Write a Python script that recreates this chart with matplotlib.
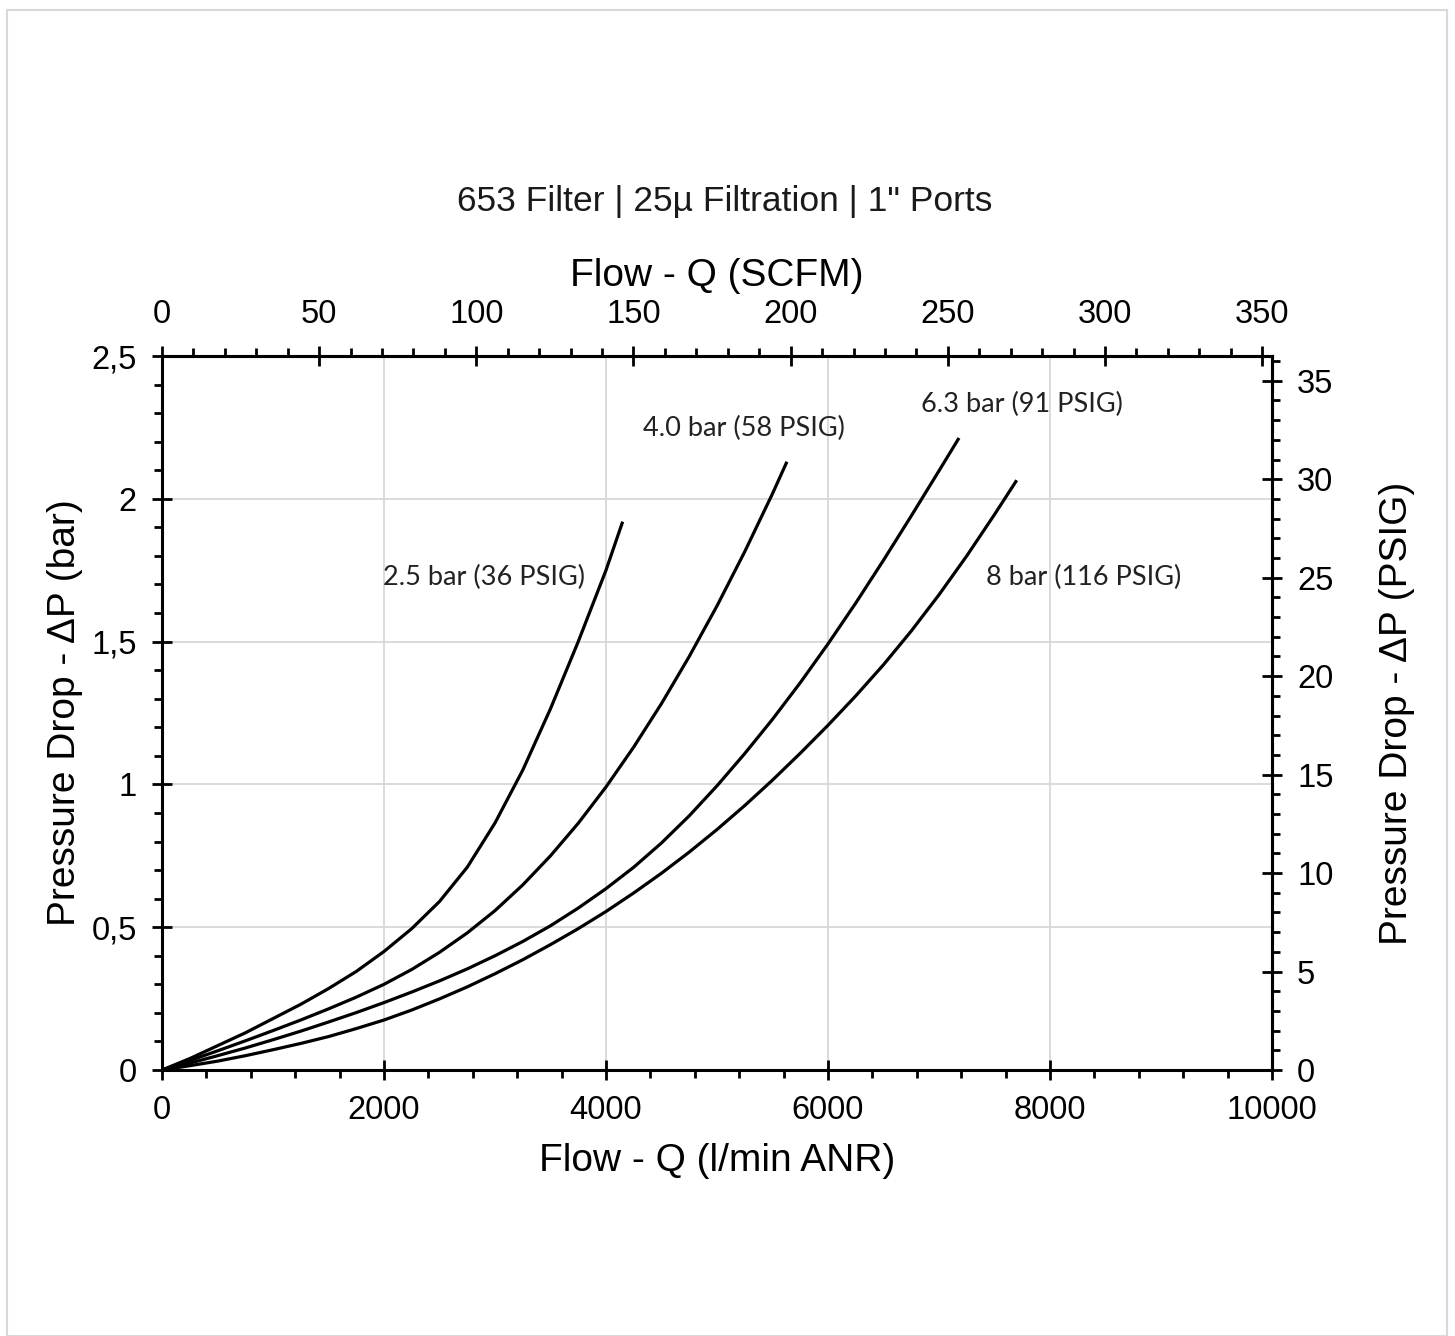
import matplotlib
matplotlib.use("Agg")
import matplotlib.pyplot as plt
from matplotlib.ticker import MultipleLocator, FixedLocator, FixedFormatter
from matplotlib.patches import Rectangle

# ---------------- data (x: l/min ANR, y: bar) ----------------
flow_25 = [0, 250, 500, 750, 1000, 1250, 1500, 1750, 2000, 2250, 2500, 2750, 3000,
           3250, 3500, 3750, 4000, 4150]
dp_25 = [0, 0.04, 0.085, 0.13, 0.18, 0.23, 0.285, 0.345, 0.415, 0.495, 0.59, 0.71, 0.865,
         1.05, 1.265, 1.50, 1.75, 1.92]

flow_40 = [0, 250, 500, 750, 1000, 1250, 1500, 1750, 2000, 2250, 2500, 2750, 3000, 3250,
           3500, 3750, 4000, 4250, 4500, 4750, 5000, 5250, 5500, 5630]
dp_40 = [0, 0.033, 0.067, 0.102, 0.138, 0.175, 0.214, 0.255, 0.30, 0.352, 0.412, 0.48, 0.558, 0.648,
         0.75, 0.864, 0.991, 1.131, 1.283, 1.448, 1.625, 1.815, 2.018, 2.13]

flow_63 = [0, 250, 500, 750, 1000, 1250, 1500, 1750, 2000, 2250, 2500, 2750, 3000, 3250,
           3500, 3750, 4000, 4250, 4500, 4750, 5000, 5250, 5500, 5750, 6000, 6250, 6500,
           6750, 7000, 7180]
dp_63 = [0, 0.024, 0.05, 0.077, 0.106, 0.136, 0.168, 0.201, 0.236, 0.273, 0.312, 0.354, 0.400, 0.450,
         0.505, 0.567, 0.635, 0.71, 0.795, 0.89, 0.995, 1.108, 1.228, 1.356, 1.492, 1.635, 1.785,
         1.94, 2.098, 2.213]

flow_80 = [0, 250, 500, 750, 1000, 1250, 1500, 1750, 2000, 2250, 2500, 2750, 3000, 3250,
           3500, 3750, 4000, 4250, 4500, 4750, 5000, 5250, 5500, 5750, 6000, 6250, 6500,
           6750, 7000, 7250, 7500, 7700]
dp_80 = [0, 0.015, 0.031, 0.05, 0.071, 0.093, 0.117, 0.145, 0.175, 0.21, 0.249, 0.291, 0.337, 0.386,
         0.439, 0.495, 0.555, 0.62, 0.689, 0.763, 0.842, 0.926, 1.015, 1.109, 1.207, 1.31, 1.419,
         1.537, 1.664, 1.80, 1.945, 2.065]

series_labels = ["2.5 bar (36 PSIG)", "4.0 bar (58 PSIG)", "6.3 bar (91 PSIG)", "8 bar (116 PSIG)"]

x_ticks = [0, 2000, 4000, 6000, 8000, 10000]
x_ticklabels = ["0", "2000", "4000", "6000", "8000", "10000"]
y_ticks = [0, 0.5, 1, 1.5, 2, 2.5]
y_ticklabels = ["0", "0,5", "1", "1,5", "2", "2,5"]
scfm_ticks = [0, 50, 100, 150, 200, 250, 300, 350]
psi_ticks = [0, 5, 10, 15, 20, 25, 30, 35]

LPM_PER_SCFM = 28.317
PSI_PER_BAR = 14.5038

title = '653 Filter | 25\u00b5 Filtration | 1" Ports'

# ---------------- figure ----------------
plt.rcParams['font.family'] = ['Liberation Sans', 'DejaVu Sans']
W, H = 1455, 1336
fig = plt.figure(figsize=(W / 100, H / 100), dpi=100)
fig.patches.append(Rectangle((7 / W, 0), (1447 - 7) / W, 1 - 10 / H,
                             transform=fig.transFigure, fill=False,
                             edgecolor='#d8d8d8', lw=1.5))

ax = fig.add_axes([162 / W, 1 - 1070 / H, (1272 - 162) / W, (1070 - 356) / H])
ax.set_xlim(0, 10000)
ax.set_ylim(0, 2.5)

for fx, dy in [(flow_25, dp_25), (flow_40, dp_40), (flow_63, dp_63), (flow_80, dp_80)]:
    ax.plot(fx, dy, color='black', lw=2.3, solid_capstyle='butt',
            solid_joinstyle='round', zorder=3)

ax.xaxis.set_major_locator(FixedLocator(x_ticks))
ax.xaxis.set_major_formatter(FixedFormatter(x_ticklabels))
ax.xaxis.set_minor_locator(MultipleLocator(400))
ax.yaxis.set_major_locator(FixedLocator(y_ticks))
ax.yaxis.set_major_formatter(FixedFormatter(y_ticklabels))
ax.yaxis.set_minor_locator(MultipleLocator(0.1))

ax.grid(True, which='major', color='#d8d8d8', lw=1.3, zorder=0)

for sp in ax.spines.values():
    sp.set_linewidth(2.2)

TICK_FS = 23.5
LABEL_FS = 28
tick_kw_major = dict(which='major', direction='inout', length=14, width=2,
                     labelsize=TICK_FS, colors='black')
tick_kw_minor = dict(which='minor', direction='out', length=6, width=2)
ax.tick_params(axis='x', pad=11, **tick_kw_major)
ax.tick_params(axis='y', pad=11, **tick_kw_major)
ax.tick_params(**tick_kw_minor)

ax.set_xlabel("Flow - Q (l/min ANR)", fontsize=LABEL_FS, labelpad=12)
ax.set_ylabel("Pressure Drop - \u0394P (bar)", fontsize=LABEL_FS, labelpad=6)

# top axis (SCFM)
secx = ax.secondary_xaxis('top', functions=(lambda x: x / LPM_PER_SCFM, lambda s: s * LPM_PER_SCFM))
secx.xaxis.set_major_locator(FixedLocator(scfm_ticks))
secx.xaxis.set_minor_locator(MultipleLocator(10))
secx.tick_params(axis='x', pad=12, **tick_kw_major)
secx.tick_params(axis='x', **tick_kw_minor)
secx.spines['top'].set_linewidth(2.2)
secx.set_xlabel("Flow - Q (SCFM)", fontsize=LABEL_FS, labelpad=9)

# right axis (PSIG)
secy = ax.secondary_yaxis('right', functions=(lambda b: b * PSI_PER_BAR, lambda p: p / PSI_PER_BAR))
secy.yaxis.set_major_locator(FixedLocator(psi_ticks))
secy.yaxis.set_minor_locator(MultipleLocator(1))
secy.tick_params(axis='y', pad=11, **tick_kw_major)
secy.tick_params(axis='y', **tick_kw_minor)
secy.spines['right'].set_linewidth(2.2)
secy.set_ylabel("Pressure Drop - \u0394P (PSIG)", fontsize=LABEL_FS, labelpad=33)

# curve labels
label_pos = [(1991, 1.726), (4333, 2.248), (6838, 2.332), (7423, 1.726)]
for txt, (lx, ly) in zip(series_labels, label_pos):
    ax.text(lx, ly, txt, fontsize=19.5, family=['Lato', 'DejaVu Sans'], color='#222222',
            ha='left', va='center', zorder=4)

fig.text(725 / W, 1 - 202 / H, title, fontsize=25.5, ha='center', va='center', color='#1a1a1a')

fig.savefig("out.png", dpi=100)
